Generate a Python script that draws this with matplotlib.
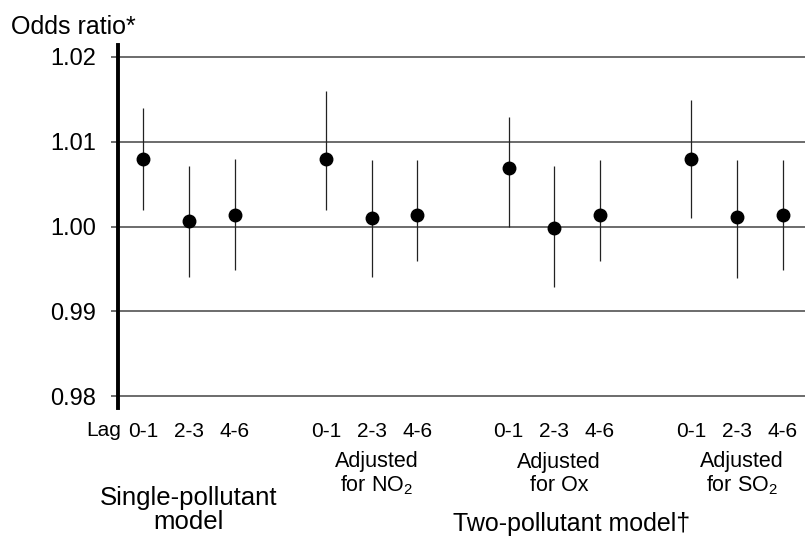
import matplotlib
matplotlib.use("Agg")
import matplotlib.pyplot as plt
import numpy as np

plt.rcParams['font.family'] = ['Liberation Sans', 'DejaVu Sans']
plt.rcParams['mathtext.fontset'] = 'custom'
plt.rcParams['mathtext.rm'] = 'Liberation Sans'
plt.rcParams['mathtext.it'] = 'Liberation Sans'

# odds ratios with 95% CI, per model group and lag
groups = ['Single', 'NO2', 'Ox', 'SO2']
lags = ['0-1', '2-3', '4-6']
odds = [[1.0079, 1.0007, 1.0014],
        [1.0079, 1.0010, 1.0013],
        [1.0069, 0.9998, 1.0014],
        [1.0079, 1.0011, 1.0014]]
lower = [[1.0020, 0.9940, 0.9949],
         [1.0020, 0.9940, 0.9959],
         [1.0000, 0.9929, 0.9959],
         [1.0010, 0.9939, 0.9949]]
upper = [[1.0140, 1.0071, 1.0079],
         [1.0160, 1.0078, 1.0078],
         [1.0129, 1.0071, 1.0078],
         [1.0149, 1.0078, 1.0078]]
yticks = [0.98, 0.99, 1.00, 1.01, 1.02]
adjusted = ['Adjusted\nfor NO$_2$', 'Adjusted\nfor Ox', 'Adjusted\nfor SO$_2$']

W, H = 805, 536
fig = plt.figure(figsize=(W / 100, H / 100), dpi=100)
ax = fig.add_axes([118 / W, 1 - 408 / H, 687 / W, 363 / H])

xs, ys, lo, hi, labels = [], [], [], [], []
for g in range(len(groups)):
    for k in range(len(lags)):
        xs.append(g * 4 + k)
        ys.append(odds[g][k])
        lo.append(lower[g][k])
        hi.append(upper[g][k])
        labels.append(lags[k])
xs = np.array(xs)
ys = np.array(ys)

ax.vlines(xs, lo, hi, color='#222222', lw=0.9, zorder=3)
ax.plot(xs, ys, 'o', color='black', ms=9, zorder=4)

for y in yticks:
    ax.axhline(y, color='#444444', lw=1.1, zorder=1)

ax.set_xlim(-0.554, 14.49)
ax.set_ylim(0.9786, 1.0214)
ax.set_yticks(yticks)
ax.set_yticklabels(['%.2f' % v for v in yticks], fontsize=17)
ax.tick_params(axis='y', length=5, width=1.1, color='#444444', pad=11)
ax.set_xticks(xs)
ax.set_xticklabels(labels, fontsize=15)
ax.tick_params(axis='x', length=0, pad=10)

for s in ['top', 'right', 'bottom']:
    ax.spines[s].set_visible(False)
ax.spines['left'].set_linewidth(2.8)
ax.spines['left'].set_color('black')

def ftext(x, y, s, **kw):
    fig.text(x / W, 1 - y / H, s, **kw)

ftext(11, 27, 'Odds ratio*', fontsize=18, ha='left', va='center')
ftext(121, 430, 'Lag', fontsize=15, ha='right', va='center')

for i, txt in enumerate(adjusted):
    xd = (i + 1) * 4 + 1
    xp = ax.transData.transform((xd, 0))[0] + 5
    ftext(xp, 474, txt, fontsize=15.5, ha='center', va='center', linespacing=1.1)

ftext(189, 510, 'Single-pollutant\nmodel', fontsize=18.5, ha='center', va='center', linespacing=1.05)
ftext(453, 524, 'Two-pollutant model\u2020', fontsize=18, ha='left', va='center')

fig.savefig('out.png', dpi=100)
